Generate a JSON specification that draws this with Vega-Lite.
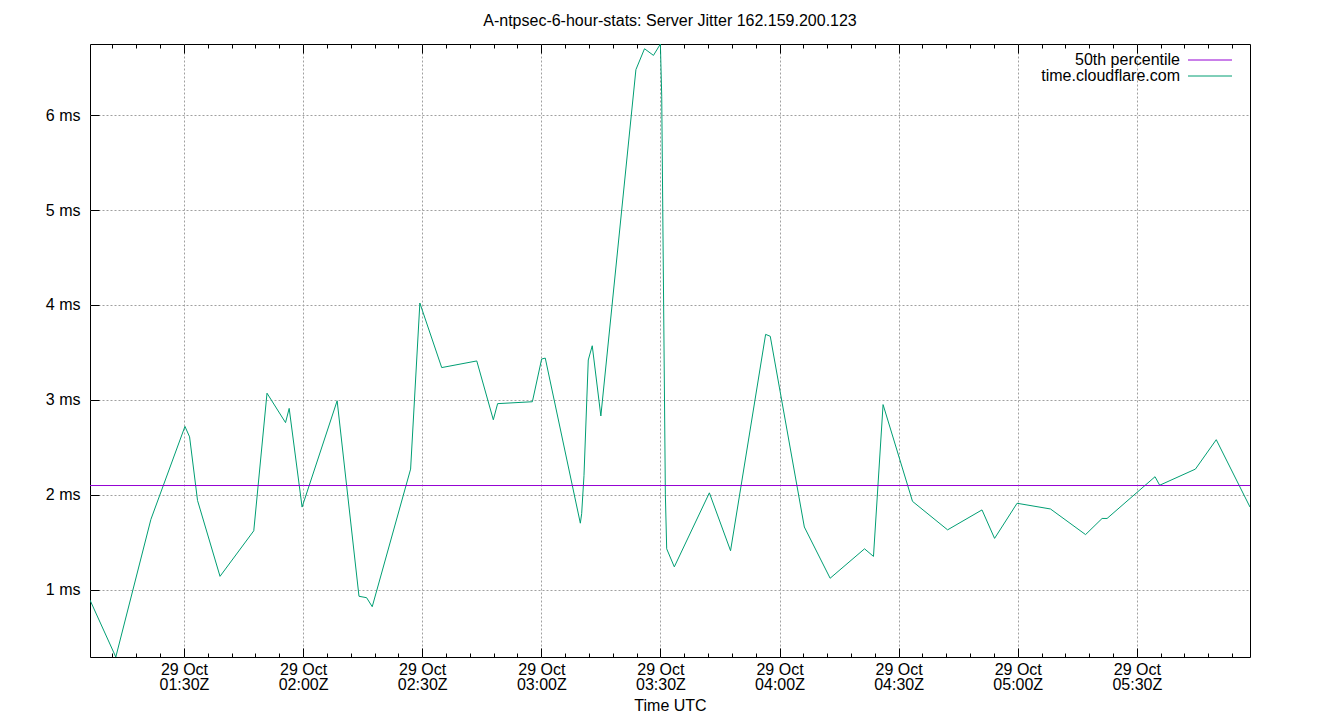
{
  "$schema": "https://vega.github.io/schema/vega-lite/v6.json",
  "width": 1160,
  "height": 613,
  "autosize": {"type": "none"},
  "padding": {"left": 90, "top": 44, "right": 90, "bottom": 63},
  "background": "white",
  "title": {"text": "A-ntpsec-6-hour-stats: Server Jitter 162.159.200.123", "font": "Liberation Sans", "fontSize": 16, "fontWeight": "normal", "anchor": "middle", "offset": 15, "color": "black"},
  "config": {
    "font": "Liberation Sans",
    "view": {"stroke": "black", "strokeWidth": 1},
    "axis": {"labelFont": "Liberation Sans", "labelFontSize": 16, "labelColor": "black", "titleFont": "Liberation Sans", "titleFontSize": 16, "titleFontWeight": "normal", "titleColor": "black", "tickColor": "black", "domain": false}
  },
  "datasets": {
    "jitter": [
      {"time": "2023-10-29T01:06:20Z", "ms": 0.89, "series": "time.cloudflare.com"},
      {"time": "2023-10-29T01:12:50Z", "ms": 0.29, "series": "time.cloudflare.com"},
      {"time": "2023-10-29T01:21:40Z", "ms": 1.74, "series": "time.cloudflare.com"},
      {"time": "2023-10-29T01:30:15Z", "ms": 2.72, "series": "time.cloudflare.com"},
      {"time": "2023-10-29T01:31:25Z", "ms": 2.61, "series": "time.cloudflare.com"},
      {"time": "2023-10-29T01:33:25Z", "ms": 1.94, "series": "time.cloudflare.com"},
      {"time": "2023-10-29T01:39:05Z", "ms": 1.14, "series": "time.cloudflare.com"},
      {"time": "2023-10-29T01:47:35Z", "ms": 1.62, "series": "time.cloudflare.com"},
      {"time": "2023-10-29T01:50:55Z", "ms": 3.07, "series": "time.cloudflare.com"},
      {"time": "2023-10-29T01:55:35Z", "ms": 2.76, "series": "time.cloudflare.com"},
      {"time": "2023-10-29T01:56:30Z", "ms": 2.91, "series": "time.cloudflare.com"},
      {"time": "2023-10-29T01:59:45Z", "ms": 1.87, "series": "time.cloudflare.com"},
      {"time": "2023-10-29T02:08:35Z", "ms": 2.99, "series": "time.cloudflare.com"},
      {"time": "2023-10-29T02:14:05Z", "ms": 0.93, "series": "time.cloudflare.com"},
      {"time": "2023-10-29T02:16:00Z", "ms": 0.915, "series": "time.cloudflare.com"},
      {"time": "2023-10-29T02:17:25Z", "ms": 0.82, "series": "time.cloudflare.com"},
      {"time": "2023-10-29T02:27:05Z", "ms": 2.27, "series": "time.cloudflare.com"},
      {"time": "2023-10-29T02:29:25Z", "ms": 4.02, "series": "time.cloudflare.com"},
      {"time": "2023-10-29T02:34:55Z", "ms": 3.34, "series": "time.cloudflare.com"},
      {"time": "2023-10-29T02:43:45Z", "ms": 3.41, "series": "time.cloudflare.com"},
      {"time": "2023-10-29T02:47:55Z", "ms": 2.79, "series": "time.cloudflare.com"},
      {"time": "2023-10-29T02:49:00Z", "ms": 2.96, "series": "time.cloudflare.com"},
      {"time": "2023-10-29T02:57:45Z", "ms": 2.98, "series": "time.cloudflare.com"},
      {"time": "2023-10-29T03:00:05Z", "ms": 3.43, "series": "time.cloudflare.com"},
      {"time": "2023-10-29T03:01:00Z", "ms": 3.44, "series": "time.cloudflare.com"},
      {"time": "2023-10-29T03:09:50Z", "ms": 1.70, "series": "time.cloudflare.com"},
      {"time": "2023-10-29T03:10:10Z", "ms": 1.80, "series": "time.cloudflare.com"},
      {"time": "2023-10-29T03:10:45Z", "ms": 2.2, "series": "time.cloudflare.com"},
      {"time": "2023-10-29T03:11:50Z", "ms": 3.42, "series": "time.cloudflare.com"},
      {"time": "2023-10-29T03:12:50Z", "ms": 3.57, "series": "time.cloudflare.com"},
      {"time": "2023-10-29T03:15:00Z", "ms": 2.83, "series": "time.cloudflare.com"},
      {"time": "2023-10-29T03:23:50Z", "ms": 6.48, "series": "time.cloudflare.com"},
      {"time": "2023-10-29T03:26:00Z", "ms": 6.70, "series": "time.cloudflare.com"},
      {"time": "2023-10-29T03:28:15Z", "ms": 6.63, "series": "time.cloudflare.com"},
      {"time": "2023-10-29T03:30:00Z", "ms": 6.75, "series": "time.cloudflare.com"},
      {"time": "2023-10-29T03:30:20Z", "ms": 6.2, "series": "time.cloudflare.com"},
      {"time": "2023-10-29T03:31:15Z", "ms": 2.0, "series": "time.cloudflare.com"},
      {"time": "2023-10-29T03:31:35Z", "ms": 1.43, "series": "time.cloudflare.com"},
      {"time": "2023-10-29T03:33:30Z", "ms": 1.24, "series": "time.cloudflare.com"},
      {"time": "2023-10-29T03:42:20Z", "ms": 2.02, "series": "time.cloudflare.com"},
      {"time": "2023-10-29T03:47:40Z", "ms": 1.41, "series": "time.cloudflare.com"},
      {"time": "2023-10-29T03:56:30Z", "ms": 3.69, "series": "time.cloudflare.com"},
      {"time": "2023-10-29T03:57:40Z", "ms": 3.67, "series": "time.cloudflare.com"},
      {"time": "2023-10-29T04:06:15Z", "ms": 1.66, "series": "time.cloudflare.com"},
      {"time": "2023-10-29T04:12:45Z", "ms": 1.12, "series": "time.cloudflare.com"},
      {"time": "2023-10-29T04:21:25Z", "ms": 1.43, "series": "time.cloudflare.com"},
      {"time": "2023-10-29T04:23:40Z", "ms": 1.35, "series": "time.cloudflare.com"},
      {"time": "2023-10-29T04:26:05Z", "ms": 2.95, "series": "time.cloudflare.com"},
      {"time": "2023-10-29T04:33:30Z", "ms": 1.93, "series": "time.cloudflare.com"},
      {"time": "2023-10-29T04:42:20Z", "ms": 1.63, "series": "time.cloudflare.com"},
      {"time": "2023-10-29T04:51:00Z", "ms": 1.84, "series": "time.cloudflare.com"},
      {"time": "2023-10-29T04:54:10Z", "ms": 1.54, "series": "time.cloudflare.com"},
      {"time": "2023-10-29T04:59:50Z", "ms": 1.91, "series": "time.cloudflare.com"},
      {"time": "2023-10-29T05:08:15Z", "ms": 1.85, "series": "time.cloudflare.com"},
      {"time": "2023-10-29T05:17:05Z", "ms": 1.58, "series": "time.cloudflare.com"},
      {"time": "2023-10-29T05:21:15Z", "ms": 1.75, "series": "time.cloudflare.com"},
      {"time": "2023-10-29T05:22:30Z", "ms": 1.75, "series": "time.cloudflare.com"},
      {"time": "2023-10-29T05:34:35Z", "ms": 2.19, "series": "time.cloudflare.com"},
      {"time": "2023-10-29T05:35:45Z", "ms": 2.10, "series": "time.cloudflare.com"},
      {"time": "2023-10-29T05:44:45Z", "ms": 2.27, "series": "time.cloudflare.com"},
      {"time": "2023-10-29T05:50:00Z", "ms": 2.58, "series": "time.cloudflare.com"},
      {"time": "2023-10-29T05:58:30Z", "ms": 1.87, "series": "time.cloudflare.com"}
    ],
    "percentile": [
      {"ms": 2.097, "series": "50th percentile"}
    ]
  },
  "resolve": {"axis": {"x": "independent"}},
  "layer": [
    {
      "data": {"name": "jitter"},
      "mark": {"type": "line", "strokeWidth": 1, "interpolate": "linear", "clip": true},
      "encoding": {
        "x": {
          "field": "time", "type": "temporal",
          "scale": {"type": "utc", "nice": false},
          "axis": {
            "orient": "bottom",
            "title": "Time UTC",
            "titlePadding": 5,
            "values": [1698541920000,1698542280000,1698542640000,1698543000000,1698543360000,1698543720000,1698544080000,1698544440000,1698544800000,1698545160000,1698545520000,1698545880000,1698546240000,1698546600000,1698546960000,1698547320000,1698547680000,1698548040000,1698548400000,1698548760000,1698549120000,1698549480000,1698549840000,1698550200000,1698550560000,1698550920000,1698551280000,1698551640000,1698552000000,1698552360000,1698552720000,1698553080000,1698553440000,1698553800000,1698554160000,1698554520000,1698554880000,1698555240000,1698555600000,1698555960000,1698556320000,1698556680000,1698557040000,1698557400000,1698557760000,1698558120000,1698558480000,1698558840000],
            "labelExpr": "utcminutes(datum.value) % 30 === 0 ? [utcFormat(datum.value, '%d %b'), utcFormat(datum.value, '%H:%MZ')] : ''",
            "labelOverlap": false,
            "labelFlush": false,
            "labelBound": false,
            "labelLineHeight": 15,
            "labelBaseline": "top",
            "tickSize": -9,
            "labelPadding": 13,
            "tickDash": {"condition": {"test": "utcminutes(datum.value) % 30 === 0", "value": []}, "value": [4, 30]},
            "grid": true,
            "gridColor": "#a0a0a0",
            "gridDash": [2, 2],
            "gridOpacity": {"condition": {"test": "utcminutes(datum.value) % 30 === 0", "value": 1}, "value": 0}
          }
        },
        "y": {
          "field": "ms", "type": "quantitative",
          "scale": {"domain": [0.29, 6.75], "nice": false, "zero": false},
          "axis": {
            "orient": "left",
            "title": null,
            "values": [1, 2, 3, 4, 5, 6],
            "labelExpr": "datum.value + ' ms'",
            "tickSize": -9,
            "labelPadding": 19,
            "grid": true,
            "gridColor": "#a0a0a0",
            "gridDash": [2, 2]
          }
        },
        "color": {
          "field": "series", "type": "nominal",
          "scale": {"domain": ["50th percentile", "time.cloudflare.com"], "range": ["#9400d3", "#009e73"]},
          "legend": {
            "orient": "none",
            "legendX": 1112,
            "legendY": 8,
            "title": null,
            "symbolType": "M-4,0H4",
            "symbolSize": 121,
            "symbolStrokeWidth": 1,
            "symbolOpacity": 1,
            "labelAlign": "right",
            "labelOffset": -38,
            "labelFontSize": 16,
            "labelFont": "Liberation Sans",
            "labelColor": "black",
            "padding": 0,
            "rowPadding": 0,
            "labelLimit": 400
          }
        }
      }
    },
    {
      "data": {"name": "percentile"},
      "mark": {"type": "rule", "strokeWidth": 1},
      "encoding": {
        "y": {"field": "ms", "type": "quantitative"},
        "color": {"field": "series", "type": "nominal"}
      }
    },
    {
      "data": {"name": "jitter"},
      "mark": {"type": "line", "strokeOpacity": 0},
      "encoding": {
        "x": {
          "field": "time", "type": "temporal",
          "axis": {
            "orient": "top",
            "title": null,
            "labels": false,
            "grid": false,
            "values": [1698541920000,1698542280000,1698542640000,1698543000000,1698543360000,1698543720000,1698544080000,1698544440000,1698544800000,1698545160000,1698545520000,1698545880000,1698546240000,1698546600000,1698546960000,1698547320000,1698547680000,1698548040000,1698548400000,1698548760000,1698549120000,1698549480000,1698549840000,1698550200000,1698550560000,1698550920000,1698551280000,1698551640000,1698552000000,1698552360000,1698552720000,1698553080000,1698553440000,1698553800000,1698554160000,1698554520000,1698554880000,1698555240000,1698555600000,1698555960000,1698556320000,1698556680000,1698557040000,1698557400000,1698557760000,1698558120000,1698558480000,1698558840000],
            "tickSize": -9,
            "tickDash": {"condition": {"test": "utcminutes(datum.value) % 30 === 0", "value": []}, "value": [4, 30]}
          }
        },
        "y": {"field": "ms", "type": "quantitative"}
      }
    }
  ]
}
